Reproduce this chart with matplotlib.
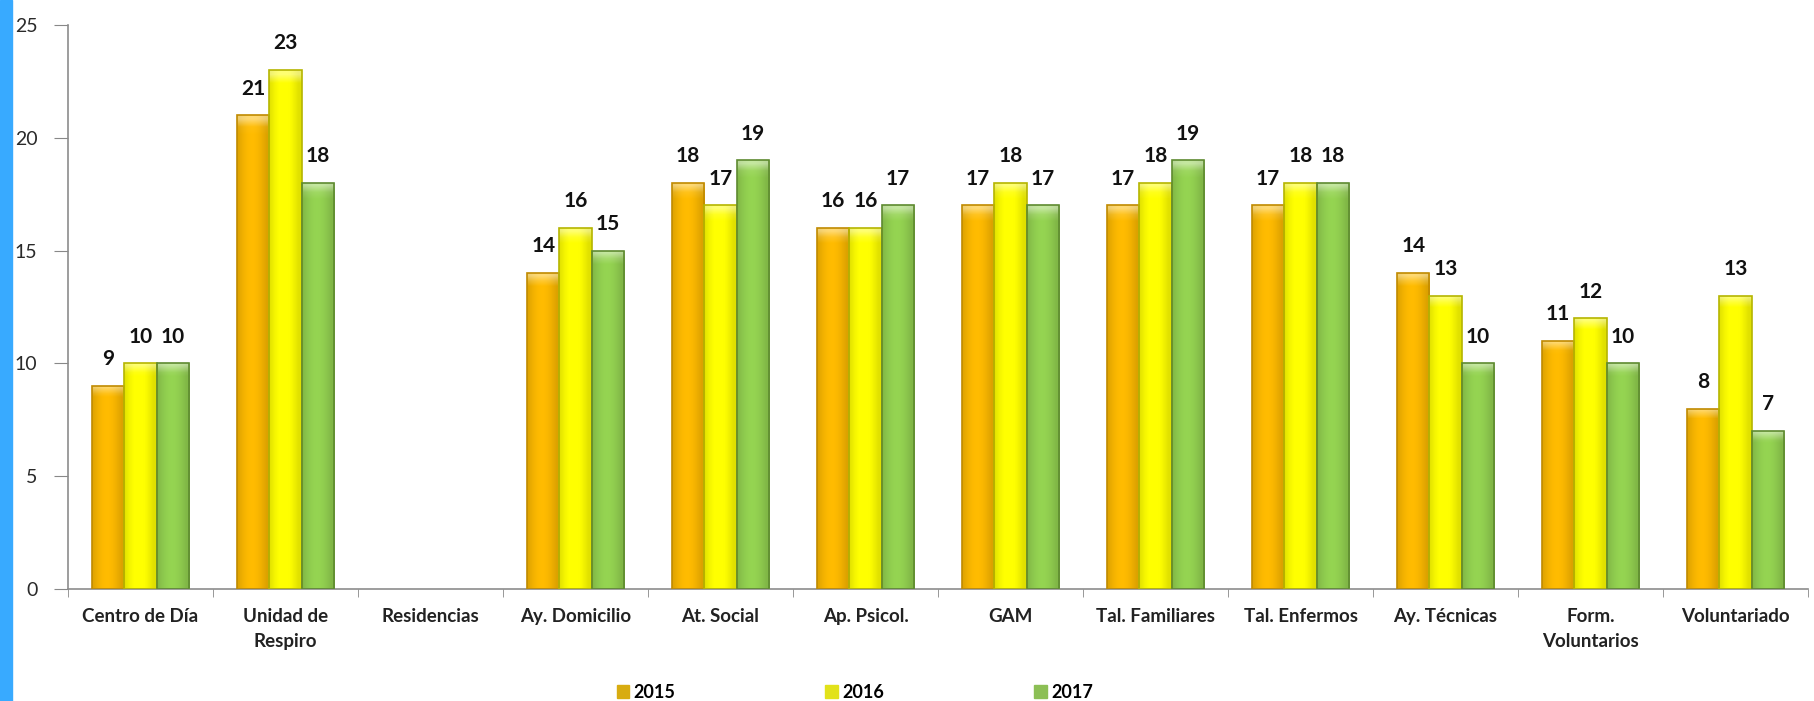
import numpy as np
import matplotlib
matplotlib.use("Agg")
import matplotlib.pyplot as plt
from matplotlib.patches import Rectangle
from matplotlib.colors import to_rgb

categories = ["Centro de Día", "Unidad de\nRespiro", "Residencias", "Ay. Domicilio",
              "At. Social", "Ap. Psicol.", "GAM", "Tal. Familiares", "Tal. Enfermos",
              "Ay. Técnicas", "Form.\nVoluntarios", "Voluntariado"]
years = ["2015", "2016", "2017"]
v2015 = [9, 21, np.nan, 14, 18, 16, 17, 17, 17, 14, 11, 8]
v2016 = [10, 23, np.nan, 16, 17, 16, 18, 18, 18, 13, 12, 13]
v2017 = [10, 18, np.nan, 15, 19, 17, 17, 19, 18, 10, 10, 7]
yticks = [0, 5, 10, 15, 20, 25]

colors = ["#FBB800", "#FFFF00", "#92D050"]
edges = ["#C08A00", "#B5B500", "#5E8A30"]

W, H = 1814, 701
fig = plt.figure(figsize=(W / 100, H / 100), dpi=100)
fig.patches.append(Rectangle((0, 0), 12 / W, 1, transform=fig.transFigure,
                             color="#38AAFF", zorder=0))
ax = fig.add_axes([68 / W, 1 - 589 / H, 1740 / W, 564 / H])

x = np.arange(len(categories))
w = 0.223
series = [v2015, v2016, v2017]
px_per_unit = 564 / 25.0


def shaded(c, nx=40, ny=60, height=1.0):
    base = np.array(to_rgb(c))
    img = np.zeros((ny, nx, 3))
    xs = np.linspace(0, 1, nx)
    f = 0.88 + 0.14 * np.sin(np.pi * np.clip(xs * 1.1, 0, 1))
    cap_units = 9 / px_per_unit
    for j in range(ny):
        yfrac = 1 - j / (ny - 1)
        dist_top = (1 - yfrac) * height
        row = np.clip(base[None, :] * f[:, None], 0, 1)
        if dist_top < cap_units:
            row = row + (1 - row) * 0.45 * (1 - dist_top / cap_units)
        img[j] = row
    return img


for i, (vals, c, ec, yr) in enumerate(zip(series, colors, edges, years)):
    pos = x + (i - 1) * w
    bars = ax.bar(pos, vals, width=w, color=c, edgecolor=ec, linewidth=1.2,
                  label=yr, zorder=2)
    for b, p, v in zip(bars, pos, vals):
        if np.isnan(v):
            continue
        im = ax.imshow(shaded(c, height=v), extent=(p - w / 2, p + w / 2, 0, v),
                       aspect="auto", zorder=2.5, interpolation="bilinear")
        im.set_clip_path(b)
        ax.annotate(f"{int(v)}", (p, v), xytext=(0, 12), textcoords="offset points",
                    ha="center", va="bottom", fontsize=15, fontweight="bold",
                    color="#111111", zorder=3, family="Lato")
    for b in bars:
        b.set_zorder(2.6)
        b.set_facecolor("none")

ax.set_xlim(-0.5, len(categories) - 0.5)
ax.set_ylim(0, 25)
ax.set_yticks(yticks)
ax.set_yticklabels([str(t) for t in yticks], fontsize=14, color="#2A2A2A", family="Lato")
ax.set_xticks(x)
ax.set_xticklabels(categories, fontsize=13.5, fontweight="bold", color="#222222",
                   linespacing=1.55, family="Lato")
ax.tick_params(axis="x", length=0, pad=14)
ax.set_xticks(np.arange(len(categories) + 1) - 0.5, minor=True)
ax.tick_params(axis="x", which="minor", length=6, color="#888888", direction="out")
ax.tick_params(axis="y", length=10, color="#888888", pad=12)
for s in ["top", "right"]:
    ax.spines[s].set_visible(False)
for s in ["left", "bottom"]:
    ax.spines[s].set_color("#8C8C8C")
    ax.spines[s].set_linewidth(1.2)

handles = [Rectangle((0, 0), 1, 1, color=c) for c in ["#D8AC10", "#E2E21A", "#8CBF55"]]
leg = fig.legend(handles, years, loc="center", bbox_to_anchor=(855 / W, 1 - 692 / H),
                 ncol=3, frameon=False, prop={"family": "Lato", "weight": "bold", "size": 13},
                 handlelength=0.7, handleheight=0.7, columnspacing=8.3,
                 handletextpad=0.25, borderaxespad=0, borderpad=0)

fig.savefig("out.png", dpi=100)
